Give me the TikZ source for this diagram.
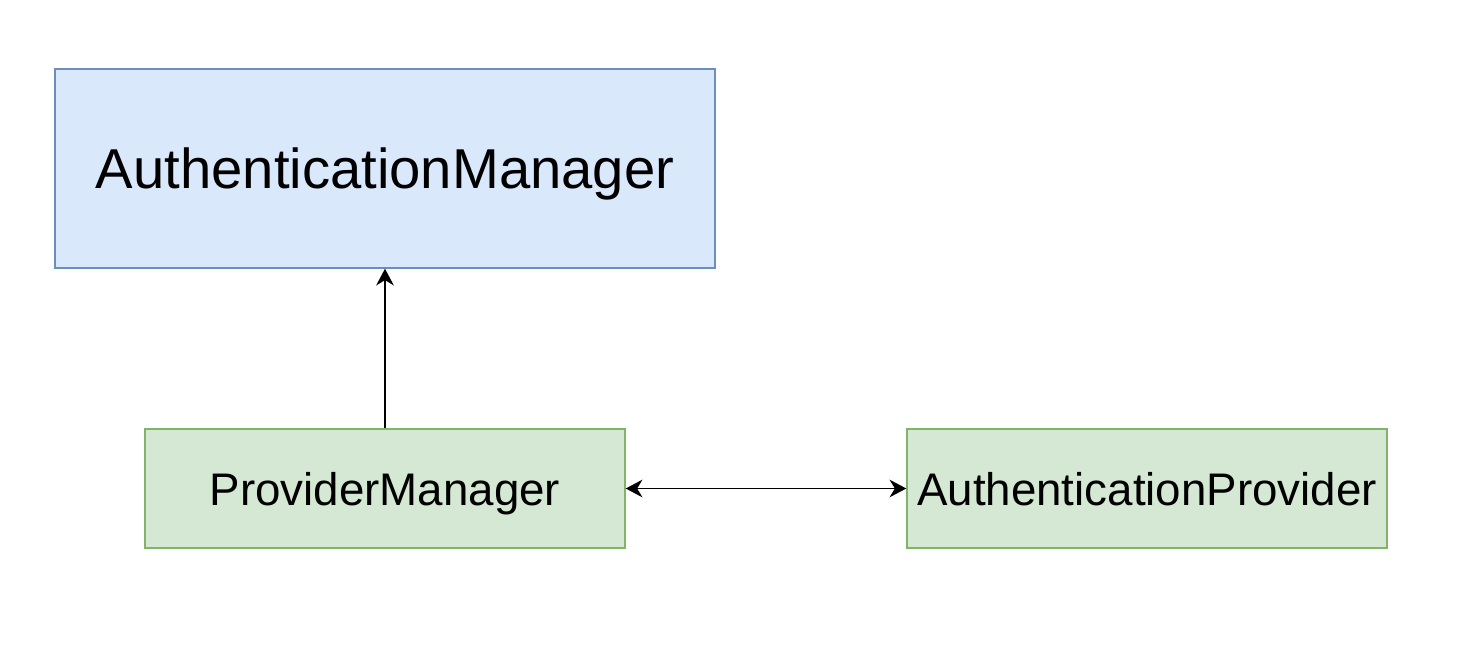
\documentclass[tikz,border=0pt]{standalone}
\usepackage{fontspec}
\setmainfont{Liberation Sans}
\usepackage{xcolor}
\definecolor{bluefill}{HTML}{dae8fc}
\definecolor{blueline}{HTML}{6c8ebf}
\definecolor{greenfill}{HTML}{d5e8d4}
\definecolor{greenline}{HTML}{82b366}
\usetikzlibrary{arrows.meta}

\begin{document}
\begin{tikzpicture}[
    >={Stealth[length=9.5pt, width=10pt, inset=3pt]},
    managerbox/.style={rectangle, draw=blueline, fill=bluefill, line width=0.8pt,
        minimum width=13.2cm, minimum height=3.98cm, text depth=0pt,
        font=\fontsize{32}{38}\selectfont},
    providerbox/.style={rectangle, draw=greenline, fill=greenfill, line width=0.8pt,
        minimum width=9.6cm, minimum height=2.38cm, text depth=0pt,
        font=\fontsize{26}{31}\selectfont},
    link/.style={line width=1.1pt}
]
    \useasboundingbox (0, 0) rectangle (29.32, -13.08);

    \node (am) at (7.7, -3.37) [managerbox] {AuthenticationManager};
    \node (pm) at (7.7, -9.77) [providerbox] {ProviderManager};
    \node (ap) at (22.94, -9.77) [providerbox] {AuthenticationProvider};

    % ProviderManager implements AuthenticationManager
    \draw[link, ->] (pm) -- (am);
    \draw[link, <->] (pm) -- (ap);
\end{tikzpicture}
\end{document}
